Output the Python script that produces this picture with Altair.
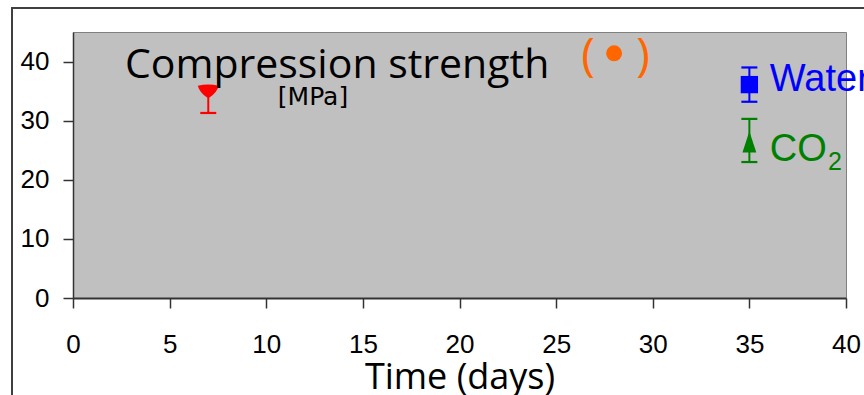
import altair as alt
import pandas as pd

# ---- data ----
series = ["7 days", "Water", "CO2"]
days = [7, 35, 35]
mean = [35.0, 36.1, 26.3]
err_low = [31.3, 33.2, 23.0]
err_high = [35.0, 39.0, 30.3]
upper_cap = [False, True, True]
colors = ["#FF0000", "#0000FF", "#008000"]
shapes = ["M-1,-0.5Q0,-0.75 1,-0.5Q0.8,0.2 0.12,0.6L-0.12,0.6Q-0.8,0.2 -1,-0.5Z",
          "square", "M0,-1L0.62,0.9L-0.62,0.9Z"]
marker_sizes = [441, 300, 500]

legend_dot_day = [28.0]
legend_dot_val = [41.4]

x_ticks = [0, 5, 10, 15, 20, 25, 30, 35, 40]
y_ticks = [0, 10, 20, 30, 40]

title_text = ["Compression strength"]
title_day = [2.69]
title_val = [37.3]

unit_text = ["[MPa]"]
unit_day = [10.6]
unit_val = [32.6]

paren_text = ["(", ")"]
paren_day = [26.65, 29.5]
paren_val = [38.4, 38.4]

label_text = ["Water", "CO"]
label_day = [36.06, 36.06]
label_val = [35.1, 23.2]
label_color = ["#0000FF", "#008000"]

sub_text = ["2"]
sub_day = [39.07]
sub_val = [21.7]

# ---- shared encodings ----
X = alt.X("day:Q", scale=alt.Scale(domain=[0, 40], nice=False, zero=False),
          axis=alt.Axis(values=x_ticks, title="Time (days)", titleFont="Open Sans",
                        titleFontSize=36, titleFontWeight="normal", titleColor="black",
                        titleY=90, titleBaseline="alphabetic", labelFlush=False,
                        labelPadding=23, domainWidth=2))
Y = alt.Y("val:Q", scale=alt.Scale(domain=[0, 45], nice=False),
          axis=alt.Axis(values=y_ticks, title=None, labelPadding=14, domainWidth=1.5))

layers = []

# error bar stems
df_err = pd.DataFrame({"day": days, "lo": err_low, "val": err_high, "series": series})
for i, s in enumerate(series):
    layers.append(
        alt.Chart(df_err[df_err.series == s]).mark_rule(color=colors[i], strokeWidth=2)
        .encode(x=X, y=Y, y2="lo:Q")
    )

# caps
cap_rows = []
for i, s in enumerate(series):
    cap_rows.append({"day": days[i], "val": err_low[i], "series": s})
    if upper_cap[i]:
        cap_rows.append({"day": days[i], "val": err_high[i], "series": s})
df_caps = pd.DataFrame(cap_rows)
for i, s in enumerate(series):
    layers.append(
        alt.Chart(df_caps[df_caps.series == s]).mark_point(
            shape="M-1,0L1,0", size=256, filled=False, strokeWidth=2.2,
            color=colors[i], opacity=1)
        .encode(x=X, y=Y)
    )

# markers
df_pts = pd.DataFrame({"day": days, "val": mean, "series": series})
for i, s in enumerate(series):
    layers.append(
        alt.Chart(df_pts[df_pts.series == s]).mark_point(
            shape=shapes[i], size=marker_sizes[i], filled=True, color=colors[i],
            opacity=1, strokeWidth=0)
        .encode(x=X, y=Y)
    )

# orange legend dot and parentheses
df_dot = pd.DataFrame({"day": legend_dot_day, "val": legend_dot_val})
layers.append(
    alt.Chart(df_dot).mark_point(shape="circle", size=254, filled=True,
                                 color="#FF6600", opacity=1, strokeWidth=0)
    .encode(x=X, y=Y)
)
df_paren = pd.DataFrame({"day": paren_day, "val": paren_val, "label": paren_text})
layers.append(
    alt.Chart(df_paren).mark_text(align="center", baseline="alphabetic",
                                  font="Open Sans", fontSize=46, color="#FF6600")
    .encode(x=X, y=Y, text="label:N")
)

# title texts
df_title = pd.DataFrame({"day": title_day, "val": title_val, "label": title_text})
layers.append(
    alt.Chart(df_title).mark_text(align="left", baseline="alphabetic",
                                  font="Open Sans", fontSize=41, color="black")
    .encode(x=X, y=Y, text="label:N")
)
df_unit = pd.DataFrame({"day": unit_day, "val": unit_val, "label": unit_text})
layers.append(
    alt.Chart(df_unit).mark_text(align="left", baseline="alphabetic",
                                 font="DejaVu Sans", fontSize=25, color="black")
    .encode(x=X, y=Y, text="label:N")
)

# series labels
df_lab = pd.DataFrame({"day": label_day, "val": label_val, "label": label_text,
                       "c": label_color})
layers.append(
    alt.Chart(df_lab).mark_text(align="left", baseline="alphabetic",
                                font="Liberation Sans", fontSize=38)
    .encode(x=X, y=Y, text="label:N", color=alt.Color("c:N", scale=None))
)
df_sub = pd.DataFrame({"day": sub_day, "val": sub_val, "label": sub_text})
layers.append(
    alt.Chart(df_sub).mark_text(align="left", baseline="alphabetic",
                                font="Liberation Sans", fontSize=25, color="#008000")
    .encode(x=X, y=Y, text="label:N")
)

# outer frame (decoration, pixel positions relative to the plot area)
layers.append(
    alt.Chart(pd.DataFrame({"a": [0]})).mark_rule(color="#404040", strokeWidth=2)
    .encode(x=alt.value(-61), y=alt.value(-24), y2=alt.value(370))
)
layers.append(
    alt.Chart(pd.DataFrame({"a": [0]})).mark_rule(color="#404040", strokeWidth=2)
    .encode(x=alt.value(-62), x2=alt.value(800), y=alt.value(-24))
)

chart = (
    alt.layer(*layers)
    .properties(width=773, height=266,
                autosize=alt.AutoSizeParams(type="none"),
                padding={"left": 73, "top": 32, "right": 18, "bottom": 97},
                background="white")
    .configure_view(fill="#C0C0C0", stroke="#808080", strokeWidth=1)
    .configure_axis(grid=False, domainColor="#333333", tickColor="#333333",
                    tickSize=10, tickWidth=1.5, labelFont="Liberation Sans",
                    labelFontSize=26, labelColor="black")
)

chart.save("out.html", embed_options={"renderer": "svg", "actions": False})
